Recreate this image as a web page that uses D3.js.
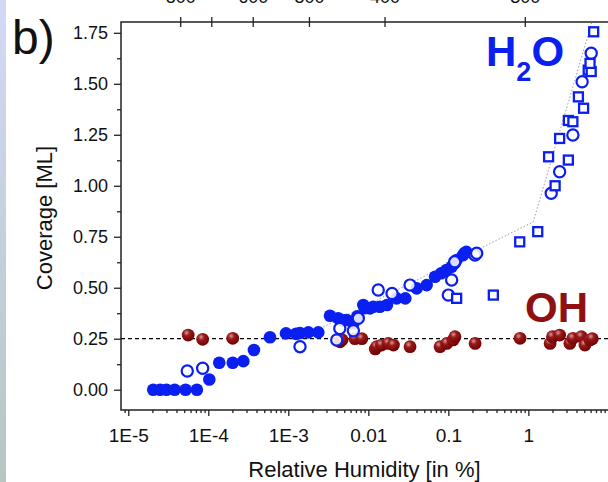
<!DOCTYPE html>
<html><head><meta charset="utf-8">
<script src="https://cdn.jsdelivr.net/npm/d3@7"></script>
<style>
html,body{margin:0;padding:0;background:#fff;}
svg{display:block;font-family:"Liberation Sans",Arial,sans-serif;}
</style></head>
<body><svg id="c" width="608" height="482"></svg>
<script>
// ---- data ----
const xTickValues = [1e-5, 1e-4, 1e-3, 0.01, 0.1, 1];
const xTickLabels = ["1E-5", "1E-4", "1E-3", "0.01", "0.1", "1"];
const yTickValues = [0, 0.25, 0.5, 0.75, 1.0, 1.25, 1.5, 1.75];
const topTickRH = [4.46e-5, 1.09e-4, 3.59e-4, 1.81e-3, 0.01594, 0.902];
const topTickLabels = ["800", "", "600", "500", "400", "300"];

const h2oFilledX = [2.05e-5, 2.5e-5, 3.0e-5, 3.8e-5, 5.2e-5, 7.2e-5, 1.03e-4, 1.37e-4, 2.02e-4, 2.74e-4,
  3.72e-4, 5.9e-4, 9.35e-4, 1.25e-3, 1.4e-3, 1.78e-3, 2.37e-3, 3.32e-3, 4.2e-3, 4.8e-3, 5.37e-3, 6.5e-3,
  7.3e-3, 8.66e-3, 9.1e-3, 0.0105, 0.0115, 0.0139, 0.0171, 0.0226, 0.029, 0.0402, 0.0536, 0.0683,
  0.0815, 0.0947, 0.11, 0.12, 0.127, 0.1526, 0.16, 0.168];
const h2oFilledY = [0, 0, 0, 0, 0, 0, 0.05, 0.132, 0.132, 0.14,
  0.195, 0.257, 0.276, 0.274, 0.278, 0.281, 0.281, 0.363, 0.35, 0.34, 0.342, 0.325,
  0.36, 0.415, 0.40, 0.399, 0.407, 0.407, 0.415, 0.448, 0.448, 0.497, 0.513, 0.554,
  0.571, 0.587, 0.603, 0.62, 0.636, 0.66, 0.67, 0.676];

const h2oOpenX = [5.46e-5, 8.5e-5, 1.4e-3, 4.03e-3, 4.4e-3, 6.5e-3, 7.5e-3, 0.0133, 0.0198, 0.0332,
  0.1, 0.11, 0.12, 0.215, 0.226, 1.93, 2.46, 3.6, 4.7, 6.1];
const h2oOpenY = [0.092, 0.105, 0.211, 0.244, 0.30, 0.289, 0.35, 0.489, 0.472, 0.513,
  0.464, 0.538, 0.627, 0.66, 0.669, 0.963, 1.069, 1.249, 1.51, 1.65];

const h2oSquareX = [0.127, 0.365, 0.78, 1.31, 1.79, 2.16, 2.46, 3.16, 3.16, 3.6, 4.22, 4.9, 5.6, 6.1, 5.9, 6.55];
const h2oSquareY = [0.448, 0.464, 0.725, 0.775, 1.142, 1.0, 1.232, 1.126, 1.32, 1.314, 1.436, 1.38, 1.567, 1.56, 1.6, 1.755];

const ohX = [5.6e-5, 8.5e-5, 2.02e-4, 4.43e-3, 4.7e-3, 6.8e-3, 8.3e-3, 0.0122, 0.0127, 0.0146, 0.0178,
  0.0206, 0.0332, 0.0787, 0.0955, 0.115, 0.121, 0.216, 0.787, 1.87, 2.0, 2.46, 3.3, 3.6, 4.6, 5.1, 5.9, 6.3];
const ohY = [0.268, 0.247, 0.252, 0.235, 0.245, 0.25, 0.25, 0.2, 0.211, 0.219, 0.227,
  0.219, 0.211, 0.211, 0.227, 0.244, 0.26, 0.227, 0.252, 0.227, 0.26, 0.268, 0.227, 0.252, 0.26, 0.219, 0.244, 0.25];

const fitX = [2.5e-3, 1.15, 6.2];
const fitY = [0.30, 0.823, 1.80];
const ohLevel = 0.25;

// ---- drawing ----
const svg = d3.select("#c");
const L = 121, R = 612, T = 22, B = 410;
const x = d3.scaleLog().domain([8.11e-6, 11.1]).range([L, R]);
const y = d3.scaleLinear().domain([-0.0995, 1.803]).range([B, T]);

const defs = svg.append("defs");
const lg = defs.append("linearGradient").attr("id", "strip").attr("x1", 0).attr("y1", 0).attr("x2", 0).attr("y2", 1);
lg.append("stop").attr("offset", "0").attr("stop-color", "#d2d9f7");
lg.append("stop").attr("offset", "1").attr("stop-color", "#b6c7c3");
const rg = defs.append("radialGradient").attr("id", "ball").attr("cx", "0.38").attr("cy", "0.32").attr("r", "0.7");
rg.append("stop").attr("offset", "0").attr("stop-color", "#d89a9a");
rg.append("stop").attr("offset", "0.35").attr("stop-color", "#9a1a1a");
rg.append("stop").attr("offset", "1").attr("stop-color", "#6e0000");
defs.append("clipPath").attr("id", "clip").append("rect").attr("x", L).attr("y", T).attr("width", R - L).attr("height", B - T);

svg.append("rect").attr("x", 0).attr("y", 0).attr("width", 6).attr("height", 482).attr("fill", "url(#strip)");

// axes
const minorX = [];
for (let e = -6; e <= 1; e++) for (let m = 2; m <= 9; m++) { const v = m * Math.pow(10, e); if (v > 8.11e-6 && v < 11.1) minorX.push(v); }
svg.append("g").attr("transform", `translate(0,${B})`)
  .call(d3.axisBottom(x).tickValues(minorX).tickSize(3).tickFormat(""))
  .call(g => g.select(".domain").remove());
const gx = svg.append("g").attr("transform", `translate(0,${B})`)
  .call(d3.axisBottom(x).tickValues(xTickValues).tickSize(6).tickPadding(13).tickFormat((d, i) => xTickLabels[i]));
gx.select(".domain").remove();
gx.selectAll("text").attr("font-size", 19).attr("fill", "#111").attr("font-family", "Liberation Sans, Arial, sans-serif");

const minorY = d3.range(0.125, 1.8, 0.25);
svg.append("g").attr("transform", `translate(${L},0)`)
  .call(d3.axisLeft(y).tickValues(minorY).tickSize(4).tickFormat(""))
  .call(g => g.select(".domain").remove());
const gy = svg.append("g").attr("transform", `translate(${L},0)`)
  .call(d3.axisLeft(y).tickValues(yTickValues).tickSize(7).tickPadding(6).tickFormat(d3.format(".2f")));
gy.select(".domain").remove();
gy.selectAll("text").attr("font-size", 18).attr("fill", "#111").attr("font-family", "Liberation Sans, Arial, sans-serif");

const gt = svg.append("g").attr("transform", `translate(0,${T})`)
  .call(d3.axisTop(x).tickValues(topTickRH).tickSize(5).tickPadding(14).tickFormat((d, i) => topTickLabels[i]));
gt.select(".domain").remove();
gt.selectAll(".tick line").attr("y1", 5).attr("y2", -5);
gt.selectAll("text").attr("font-size", 18).attr("fill", "#111").attr("font-family", "Liberation Sans, Arial, sans-serif");

svg.selectAll(".tick line").attr("stroke", "#222").attr("stroke-width", 1.3);

// frame
svg.append("rect").attr("x", L).attr("y", T).attr("width", R - L).attr("height", B - T)
  .attr("fill", "none").attr("stroke", "#222").attr("stroke-width", 1.5);

const plot = svg.append("g").attr("clip-path", "url(#clip)");
plot.append("line").attr("x1", L).attr("x2", R).attr("y1", y(ohLevel)).attr("y2", y(ohLevel))
  .attr("stroke", "#000").attr("stroke-width", 1.2).attr("stroke-dasharray", "4,3");
plot.append("path").datum(fitX.map((v, i) => [v, fitY[i]]))
  .attr("d", d3.line().x(d => x(d[0])).y(d => y(d[1])))
  .attr("fill", "none").attr("stroke", "#9a9aaa").attr("stroke-width", 1).attr("stroke-dasharray", "1.5,2");

const blue = "#0a1ff0";
plot.selectAll(".oh").data(ohX.map((v, i) => [v, ohY[i]])).join("circle")
  .attr("cx", d => x(d[0])).attr("cy", d => y(d[1])).attr("r", 6.4).attr("fill", "url(#ball)");
plot.selectAll(".hf").data(h2oFilledX.map((v, i) => [v, h2oFilledY[i]])).join("circle").attr("class", "hf")
  .attr("cx", d => x(d[0])).attr("cy", d => y(d[1])).attr("r", 6.3).attr("fill", blue);
plot.selectAll(".ho").data(h2oOpenX.map((v, i) => [v, h2oOpenY[i]])).join("circle").attr("class", "ho")
  .attr("cx", d => x(d[0])).attr("cy", d => y(d[1])).attr("r", 5.6).attr("fill", "#fff").attr("fill-opacity", 0.85)
  .attr("stroke", blue).attr("stroke-width", 2.2);
plot.selectAll(".hs").data(h2oSquareX.map((v, i) => [v, h2oSquareY[i]])).join("rect").attr("class", "hs")
  .attr("x", d => x(d[0]) - 4.5).attr("y", d => y(d[1]) - 4.5).attr("width", 9).attr("height", 9)
  .attr("fill", "#fff").attr("stroke", blue).attr("stroke-width", 2.3);

// labels
svg.append("text").attr("x", 12).attr("y", 54).attr("font-size", 48).attr("fill", "#111").text("b)");
svg.append("text").attr("transform", `translate(52,${(T + B) / 2 + 2}) rotate(-90)`).attr("text-anchor", "middle")
  .attr("font-size", 22).attr("fill", "#111").text("Coverage [ML]");
svg.append("text").attr("x", (L + 608) / 2).attr("y", 477).attr("text-anchor", "middle")
  .attr("font-size", 22).attr("fill", "#111").text("Relative Humidity [in %]");

const h2o = svg.append("text").attr("x", 486).attr("y", 66).attr("font-size", 42).attr("font-weight", "bold").attr("fill", blue);
h2o.append("tspan").text("H");
h2o.append("tspan").attr("font-size", 27).attr("dy", 15).text("2");
h2o.append("tspan").attr("dy", -15).text("O");
svg.append("text").attr("x", 525).attr("y", 322).attr("font-size", 42).attr("font-weight", "bold").attr("fill", "#8e1010").text("OH");
</script></body></html>
